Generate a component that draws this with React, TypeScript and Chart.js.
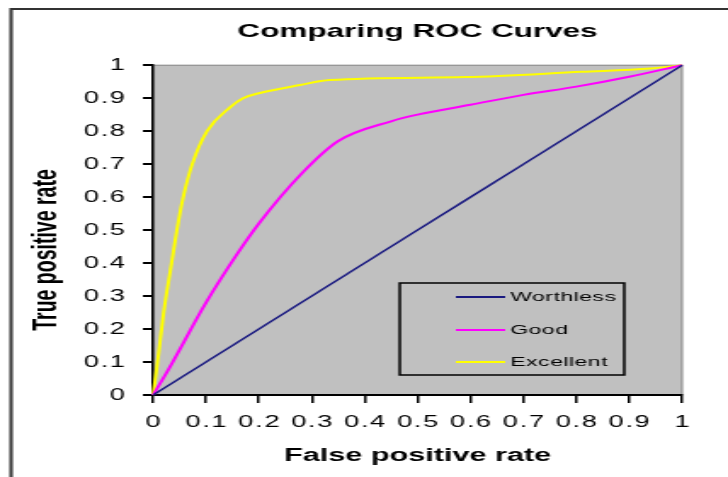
import React, { useEffect, useRef } from 'react';
import { Chart, registerables } from 'chart.js';

Chart.register(...registerables);

const chartTitle = 'Comparing ROC Curves';
const xAxisTitle = 'False positive rate';
const yAxisTitle = 'True positive rate';

const xTickLabels = ['0', '0.1', '0.2', '0.3', '0.4', '0.5', '0.6', '0.7', '0.8', '0.9', '1'];
const yTickLabels = ['0', '0.1', '0.2', '0.3', '0.4', '0.5', '0.6', '0.7', '0.8', '0.9', '1'];

const seriesNames = ['Worthless', 'Good', 'Excellent'];
const seriesColors = ['#1a1a80', '#ff00ff', '#ffff00'];

const worthlessFpr = [0, 0.1, 0.2, 0.3, 0.4, 0.5, 0.6, 0.7, 0.8, 0.9, 1];
const worthlessTpr = [0, 0.1, 0.2, 0.3, 0.4, 0.5, 0.6, 0.7, 0.8, 0.9, 1];

const goodFpr = [0, 0.03, 0.1, 0.16, 0.2, 0.28, 0.35, 0.45, 0.5, 0.6, 0.7, 0.8, 0.9, 1];
const goodTpr = [0, 0.08, 0.28, 0.43, 0.52, 0.67, 0.77, 0.83, 0.85, 0.88, 0.91, 0.935, 0.965, 1];

const excellentFpr = [0, 0.01, 0.02, 0.035, 0.045, 0.057, 0.074, 0.102, 0.146, 0.17, 0.2, 0.278, 0.334, 0.59, 0.81, 0.94, 1];
const excellentTpr = [0, 0.12, 0.25, 0.4, 0.5, 0.6, 0.7, 0.8, 0.873, 0.9, 0.915, 0.94, 0.955, 0.964, 0.98, 0.99, 1];

const FONT = '"Liberation Sans", Arial, sans-serif';

const toPoints = (xs: number[], ys: number[]) => xs.map((x, i) => ({ x, y: ys[i] }));

const setSpacing = (ctx: any, v: string) => {
  try { ctx.letterSpacing = v; } catch (e) { /* ignore */ }
};

const decorPlugin = {
  id: 'decor',
  beforeDraw(chart: any) {
    const { ctx, chartArea: a } = chart;
    ctx.save();
    ctx.fillStyle = '#c0c0c0';
    ctx.fillRect(a.left, a.top, a.right - a.left, a.bottom - a.top);
    ctx.strokeStyle = '#808080';
    ctx.lineWidth = 1;
    ctx.strokeRect(a.left, a.top, a.right - a.left, a.bottom - a.top);
    ctx.strokeStyle = '#333333';
    ctx.lineWidth = 2;
    ctx.beginPath();
    ctx.moveTo(6.5, chart.height);
    ctx.lineTo(6.5, 9);
    ctx.lineTo(chart.width, 9);
    ctx.stroke();
    ctx.restore();
  },
  afterDraw(chart: any) {
    const { ctx } = chart;
    const xs = chart.scales.x;
    const ys = chart.scales.y;

    // tick labels
    ctx.save();
    ctx.fillStyle = '#000';
    ctx.font = `16px ${FONT}`;
    setSpacing(ctx, '1px');
    ctx.textBaseline = 'middle';
    ctx.textAlign = 'center';
    xs.ticks.forEach((t: any, i: number) => {
      const label = t.label ?? xTickLabels[i];
      ctx.fillText(label, xs.getPixelForValue(t.value) + 0.5, 423);
    });
    ctx.textAlign = 'right';
    ys.ticks.forEach((t: any, i: number) => {
      const label = t.label ?? yTickLabels[i];
      ctx.fillText(label, 74.5, ys.getPixelForValue(t.value) + 0.5);
    });
    ctx.restore();

    // y axis title
    ctx.save();
    ctx.translate(28, 250);
    ctx.rotate(-Math.PI / 2);
    ctx.font = `bold 19.5px ${FONT}`;
    ctx.textAlign = 'center';
    ctx.textBaseline = 'middle';
    ctx.fillStyle = '#000';
    ctx.fillText(yAxisTitle, 0, 0);
    ctx.restore();

    // legend
    const L = { left: 235, top: 283, right: 367, bottom: 375 };
    ctx.save();
    ctx.fillStyle = '#c0c0c0';
    ctx.fillRect(L.left, L.top, L.right - L.left, L.bottom - L.top);
    ctx.strokeStyle = '#000';
    ctx.lineWidth = 1.5;
    ctx.strokeRect(L.left, L.top, L.right - L.left, L.bottom - L.top);
    const rows = [297, 330, 362];
    chart.data.datasets.forEach((ds: any, i: number) => {
      const y = rows[i];
      ctx.strokeStyle = ds.borderColor;
      ctx.lineWidth = 2;
      ctx.beginPath();
      ctx.moveTo(268, y);
      ctx.lineTo(297, y);
      ctx.stroke();
      ctx.fillStyle = '#000';
      ctx.font = `13.5px ${FONT}`;
      ctx.textAlign = 'left';
      ctx.textBaseline = 'middle';
      setSpacing(ctx, '0.3px');
      ctx.fillText(ds.label, 300, y);
    });
    ctx.restore();
  },
};

export default function App() {
  const ref = useRef<HTMLCanvasElement | null>(null);
  useEffect(() => {
    if (!ref.current) return;
    const chart = new Chart(ref.current, {
      type: 'line',
      data: {
        datasets: [
          {
            label: seriesNames[0],
            data: toPoints(worthlessFpr, worthlessTpr),
            borderColor: seriesColors[0],
            borderWidth: 1.5,
            pointRadius: 0,
            tension: 0,
            clip: 4,
          },
          {
            label: seriesNames[1],
            data: toPoints(goodFpr, goodTpr),
            borderColor: seriesColors[1],
            borderWidth: 2,
            pointRadius: 0,
            cubicInterpolationMode: 'monotone',
            clip: 4,
          },
          {
            label: seriesNames[2],
            data: toPoints(excellentFpr, excellentTpr),
            borderColor: seriesColors[2],
            borderWidth: 2,
            pointRadius: 0,
            cubicInterpolationMode: 'monotone',
            clip: 4,
          },
        ] as any,
      },
      options: {
        responsive: false,
        animation: false,
        devicePixelRatio: 1,
        layout: { padding: { left: 0, right: 27, top: 0, bottom: 0 } },
        plugins: {
          legend: { display: false },
          tooltip: { enabled: false },
          title: {
            display: true,
            text: chartTitle,
            fullSize: false,
            color: '#000',
            font: { family: FONT, size: 18.5, weight: 'bold' },
            padding: { top: 21, bottom: 22 },
          } as any,
        },
        scales: {
          x: {
            type: 'linear',
            min: 0,
            max: 1,
            afterFit: (s: any) => { s.height = 82; },
            border: { display: true, color: '#000', width: 2 },
            grid: { display: true, drawOnChartArea: false, drawTicks: true, tickLength: 8, color: '#000', lineWidth: 1.5 },
            ticks: {
              display: false,
              stepSize: 0.1,
              autoSkip: false,
              maxRotation: 0,
              callback: (_v: any, i: number) => xTickLabels[i],
            },
            title: {
              display: true,
              text: xAxisTitle,
              color: '#000',
              font: { family: FONT, size: 18, weight: 'bold' },
              padding: { top: 0, bottom: 10 },
            },
          },
          y: {
            type: 'linear',
            min: 0,
            max: 1,
            afterFit: (s: any) => { s.width = 90; },
            border: { display: true, color: '#000', width: 1.5 },
            grid: { display: true, drawOnChartArea: false, drawTicks: true, tickLength: 6, color: '#000', lineWidth: 2 },
            ticks: {
              display: false,
              stepSize: 0.1,
              autoSkip: false,
              callback: (_v: any, i: number) => yTickLabels[i],
            },
          },
        },
      } as any,
      plugins: [decorPlugin],
    });
    if (ref.current) {
      ref.current.style.width = '728px';
      ref.current.style.height = '477px';
    }
    return () => chart.destroy();
  }, []);

  return (
    <div style={{ position: 'fixed', left: 0, top: 0, width: 728, height: 477, background: '#fff' }}>
      <canvas ref={ref} width={428} height={477} style={{ display: 'block', width: '728px', height: '477px' }} />
    </div>
  );
}
